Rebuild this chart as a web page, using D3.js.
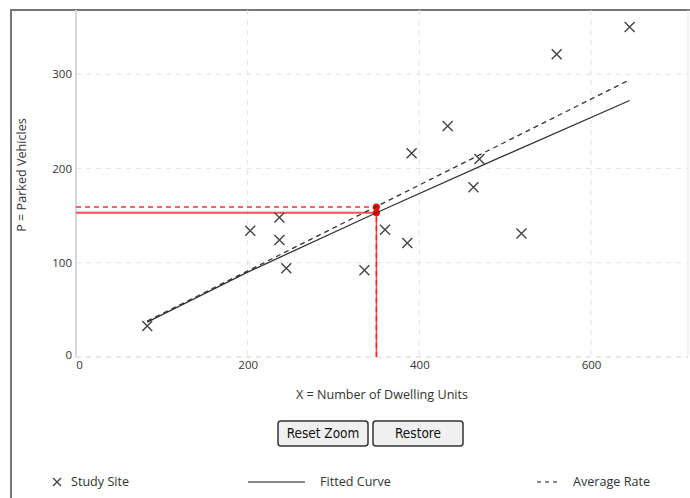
<!DOCTYPE html>
<html>
<head>
<meta charset="utf-8">
<script src="https://cdn.jsdelivr.net/npm/d3@7/dist/d3.min.js"></script>
<style>
  html, body { margin: 0; padding: 0; background: #fff; }
  svg { display: block; }
</style>
</head>
<body>
<svg id="chart" width="690" height="498"></svg>
<script>
// ---- data ----
const studyX = [83, 203, 237, 237, 245, 336, 360, 386, 391, 433, 463, 470, 519, 560, 645];
const studyP = [33, 134, 148, 124, 94, 92, 135, 121, 216, 245, 180, 210, 131, 321, 350];
const fittedX = [83, 200, 350, 500, 645];
const fittedP = [37, 90, 153, 214, 272];
const averageX = [83, 645];
const averageP = [38, 294];
const selectedX = 350;
const selectedFitted = 153;
const selectedAverage = 159;
const xTicks = [0, 200, 400, 600];
const yTicks = [0, 100, 200, 300];
const xLabel = "X = Number of Dwelling Units";
const yLabel = "P = Parked Vehicles";
const buttonLabels = ["Reset Zoom", "Restore"];
const legendLabels = ["Study Site", "Fitted Curve", "Average Rate"];

const svg = d3.select("#chart");
const font = "'Open Sans', 'Noto Sans', sans-serif";

const x = d3.scaleLinear().domain([0, 713]).range([76, 688]);
const y = d3.scaleLinear().domain([0, 368]).range([357, 10]);

// frame
svg.append("path")
  .attr("d", "M11,498 L11,10 L690,10")
  .attr("fill", "none").attr("stroke", "#777").attr("stroke-width", 2);

// grid
const grid = svg.append("g");
grid.selectAll("line.v").data(xTicks.filter(d => d > 0)).join("line")
  .attr("x1", d => x(d)).attr("x2", d => x(d))
  .attr("y1", y.range()[1]).attr("y2", y.range()[0])
  .attr("stroke", "#e2e2e2").attr("stroke-width", 1).attr("stroke-dasharray", "5,5");
grid.selectAll("line.h").data(yTicks).join("line")
  .attr("x1", x.range()[0]).attr("x2", x.range()[1])
  .attr("y1", d => y(d)).attr("y2", d => y(d))
  .attr("stroke", d => d === 0 ? "#d0d0d0" : "#e2e2e2").attr("stroke-width", 1).attr("stroke-dasharray", "5,5");

// y axis line and right edge
svg.append("line").attr("x1", x(0)).attr("x2", x(0)).attr("y1", y.range()[1]).attr("y2", y(0))
  .attr("stroke", "#d6d6e4").attr("stroke-width", 2);
svg.append("line").attr("x1", x.range()[1]).attr("x2", x.range()[1]).attr("y1", y.range()[1]).attr("y2", y(0))
  .attr("stroke", "#e4e4ee").attr("stroke-width", 1);

// axes via d3 axis, tick labels only
const xAxis = svg.append("g").attr("transform", `translate(0,${y(0)})`)
  .call(d3.axisBottom(x).tickValues(xTicks).tickSize(0).tickPadding(4).tickFormat(d3.format("d")));
xAxis.select(".domain").remove();
xAxis.selectAll("text").attr("font-family", font).attr("font-size", 11.5).attr("fill", "#333");
xAxis.selectAll(".tick").filter(d => d === 0).select("text").attr("dx", 3);

const yAxis = svg.append("g").attr("transform", `translate(${x(0)},0)`)
  .call(d3.axisLeft(y).tickValues(yTicks).tickSize(0).tickPadding(4).tickFormat(d3.format("d")));
yAxis.select(".domain").remove();
yAxis.selectAll("text").attr("font-family", font).attr("font-size", 11.5).attr("fill", "#333");
yAxis.selectAll(".tick").filter(d => d === 0).select("text").attr("dy", "0.1em");

// axis titles
svg.append("text").attr("x", 382).attr("y", 399).attr("text-anchor", "middle")
  .attr("font-family", font).attr("font-size", 12.6).attr("fill", "#333").text(xLabel);
svg.append("text").attr("transform", "translate(26,175) rotate(-90)").attr("text-anchor", "middle")
  .attr("font-family", font).attr("font-size", 12.6).attr("fill", "#333").text(yLabel);

// red selection lines
const red = svg.append("g");
red.append("line").attr("x1", x(0)).attr("x2", x(selectedX))
  .attr("y1", y(selectedFitted)).attr("y2", y(selectedFitted))
  .attr("stroke", "#f33").attr("stroke-opacity", 0.85).attr("stroke-width", 2);
red.append("line").attr("x1", x(0)).attr("x2", x(selectedX))
  .attr("y1", y(selectedAverage)).attr("y2", y(selectedAverage))
  .attr("stroke", "#f33").attr("stroke-width", 1.5).attr("stroke-dasharray", "5,4");
red.append("line").attr("x1", x(selectedX)).attr("x2", x(selectedX))
  .attr("y1", y(0)).attr("y2", y(selectedFitted))
  .attr("stroke", "#f22").attr("stroke-opacity", 0.85).attr("stroke-width", 1.5);
red.append("line").attr("x1", x(selectedX)).attr("x2", x(selectedX))
  .attr("y1", y(0)).attr("y2", y(selectedAverage))
  .attr("stroke", "#f22").attr("stroke-width", 1.5).attr("stroke-dasharray", "5,4");

// fitted and average lines
const line = d3.line().x(d => x(d[0])).y(d => y(d[1]));
svg.append("path").datum(fittedX.map((v, i) => [v, fittedP[i]]))
  .attr("d", line).attr("fill", "none").attr("stroke", "#333").attr("stroke-width", 1.3);
svg.append("path").datum(averageX.map((v, i) => [v, averageP[i]]))
  .attr("d", line).attr("fill", "none").attr("stroke", "#333").attr("stroke-width", 1.3)
  .attr("stroke-dasharray", "5,4");

// red dots
red.selectAll("circle").data([selectedAverage, selectedFitted]).join("circle")
  .attr("cx", x(selectedX)).attr("cy", d => y(d)).attr("r", 3.5).attr("fill", "#f00");

// study site markers
const s = 5;
const xMark = (cx, cy) => `M${cx - s},${cy - s}L${cx + s},${cy + s}M${cx - s},${cy + s}L${cx + s},${cy - s}`;
svg.append("g").selectAll("path").data(studyX.map((v, i) => [v, studyP[i]])).join("path")
  .attr("d", d => xMark(x(d[0]), y(d[1])))
  .attr("stroke", "#444").attr("stroke-width", 1.4).attr("fill", "none");

// buttons
const btnFont = "'Liberation Sans Narrow', 'DejaVu Sans Condensed', sans-serif";
const buttons = svg.append("g");
const bx = [278, 373];
buttonLabels.forEach((lbl, i) => {
  const g = buttons.append("g").attr("transform", `translate(${bx[i]},421)`);
  g.append("rect").attr("width", 90).attr("height", 25).attr("rx", 3)
    .attr("fill", "#f0f0f0").attr("stroke", "#333").attr("stroke-width", 1.5);
  g.append("text").attr("x", 45).attr("y", 17).attr("text-anchor", "middle")
    .attr("font-family", btnFont).attr("font-size", 13.5).attr("fill", "#111").text(lbl);
});

// legend
const lg = svg.append("g").attr("font-family", font).attr("font-size", 12.6).attr("fill", "#333");
lg.append("path").attr("d", `M53,478L61,486M53,486L61,478`).attr("stroke", "#444").attr("stroke-width", 1.4);
lg.append("text").attr("x", 71).attr("y", 486).text(legendLabels[0]);
lg.append("line").attr("x1", 248).attr("x2", 305).attr("y1", 482).attr("y2", 482)
  .attr("stroke", "#888").attr("stroke-width", 1.8);
lg.append("text").attr("x", 320).attr("y", 486).text(legendLabels[1]);
lg.append("line").attr("x1", 537).attr("x2", 558).attr("y1", 482).attr("y2", 482)
  .attr("stroke", "#666").attr("stroke-width", 1.3).attr("stroke-dasharray", "4,4");
lg.append("text").attr("x", 573).attr("y", 486).text(legendLabels[2]);
</script>
</body>
</html>
